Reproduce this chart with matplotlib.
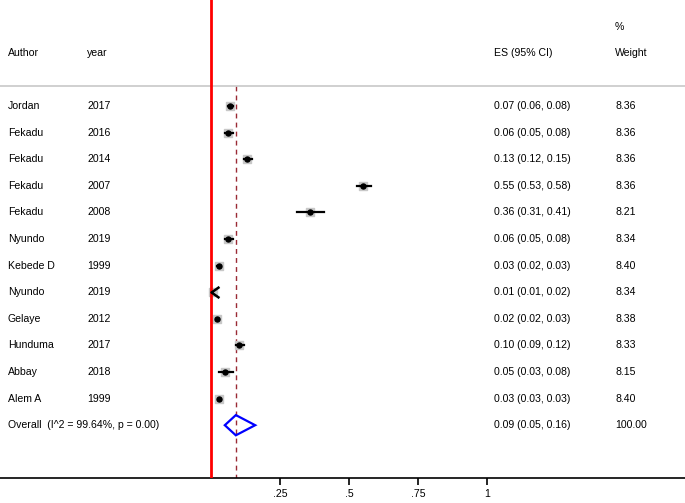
import numpy as np
import matplotlib.pyplot as plt
from matplotlib.patches import Polygon
from matplotlib.path import Path

plt.rcParams['font.family'] = ['Liberation Sans', 'DejaVu Sans']

# study data
authors = ['Jordan', 'Fekadu', 'Fekadu', 'Fekadu', 'Fekadu', 'Nyundo', 'Kebede D',
           'Nyundo', 'Gelaye', 'Hunduma', 'Abbay', 'Alem A']
years = ['2017', '2016', '2014', '2007', '2008', '2019', '1999',
         '2019', '2012', '2017', '2018', '1999']
es = [0.07, 0.06, 0.13, 0.55, 0.36, 0.06, 0.03, 0.01, 0.02, 0.10, 0.05, 0.03]
lo = [0.06, 0.05, 0.12, 0.53, 0.31, 0.05, 0.02, 0.01, 0.02, 0.09, 0.03, 0.03]
hi = [0.08, 0.08, 0.15, 0.58, 0.41, 0.08, 0.03, 0.02, 0.03, 0.12, 0.08, 0.03]
weights = [8.36, 8.36, 8.36, 8.36, 8.21, 8.34, 8.40, 8.34, 8.38, 8.33, 8.15, 8.40]
overall_es, overall_lo, overall_hi = 0.09, 0.05, 0.16
overall_label = 'Overall  (I^2 = 99.64%, p = 0.00)'
xticks = [0.25, 0.5, 0.75, 1]
xticklabels = ['.25', '.5', '.75', '1']

n = len(authors)
fig = plt.figure(figsize=(6.85, 5.03), dpi=100)
ax = fig.add_axes([0, 25 / 503, 1, 478 / 503])

# pixel layout: x=0 at 211px, 1 unit = 276px; rows every 26.6px starting at 106px
ax.set_xlim(-211 / 276, (685 - 211) / 276)
ax.set_ylim((478 - 106) / 26.6, -106 / 26.6)

fs = 7.6
x_auth, x_year, x_es, x_wt = -203 / 276, -124 / 276, 283 / 276, 404 / 276

# headers
ax.text(x_auth, -2.0, 'Author', fontsize=fs, va='center')
ax.text(x_year, -2.0, 'year', fontsize=fs, va='center')
ax.text(x_es, -2.0, 'ES (95% CI)', fontsize=fs, va='center')
ax.text(x_wt, -2.0, 'Weight', fontsize=fs, va='center')
ax.text(x_wt, -2.98, '%', fontsize=fs, va='center')
ax.axhline(-0.75, color='#c8c8c8', lw=1.2)

# reference lines
ax.axvline(0, color='#ff0000', lw=2, zorder=3)
ax.plot([overall_es, overall_es], [-0.75, 14], color='#9a2a35', lw=1, ls=(0, (3.5, 3)), zorder=1)

chevron = Path([(1, 1.4), (-1, 0), (1, -1.4)], [Path.MOVETO, Path.LINETO, Path.LINETO])

for i in range(n):
    ax.text(x_auth, i, authors[i], fontsize=fs, va='center')
    ax.text(x_year, i, years[i], fontsize=fs, va='center')
    ax.text(x_es, i, f'{es[i]:.2f} ({lo[i]:.2f}, {hi[i]:.2f})', fontsize=fs, va='center')
    ax.text(x_wt, i, f'{weights[i]:.2f}', fontsize=fs, va='center')
    if authors[i] == 'Nyundo' and es[i] < 0.02:
        # CI runs off the left of the scale: Stata draws an arrow
        ax.scatter([es[i] - 0.002], [i], s=weights[i] * 4, marker='s', color='#c8c8c8', zorder=2)
        ax.plot([es[i] + 0.006], [i], marker=chevron, ms=8, mfc='none', mec='black', mew=1.8, zorder=4)
        continue
    ax.scatter([es[i]], [i], s=weights[i] * 4, marker='s', color='#c8c8c8', zorder=2)
    ax.plot([lo[i], hi[i]], [i, i], color='black', lw=1.6, zorder=4)
    ax.plot([es[i]], [i], 'o', color='black', ms=3.6, zorder=5)

# overall
ax.text(x_auth, n, overall_label, fontsize=fs, va='center')
ax.text(x_es, n, f'{overall_es:.2f} ({overall_lo:.2f}, {overall_hi:.2f})', fontsize=fs, va='center')
ax.text(x_wt, n, '100.00', fontsize=fs, va='center')
dh = 0.38
diamond = Polygon([(overall_lo, n), (overall_es, n - dh), (overall_hi, n), (overall_es, n + dh)],
                  closed=True, fill=False, edgecolor='#0000ff', lw=1.6, zorder=4)
ax.add_patch(diamond)

# axis
for s in ['top', 'right', 'left']:
    ax.spines[s].set_visible(False)
ax.spines['bottom'].set_linewidth(1.2)
ax.set_yticks([])
ax.set_xticks(xticks)
ax.set_xticklabels(xticklabels, fontsize=fs)
ax.tick_params(axis='x', length=5, width=1.2, pad=3)

fig.savefig('out.png', dpi=100)
